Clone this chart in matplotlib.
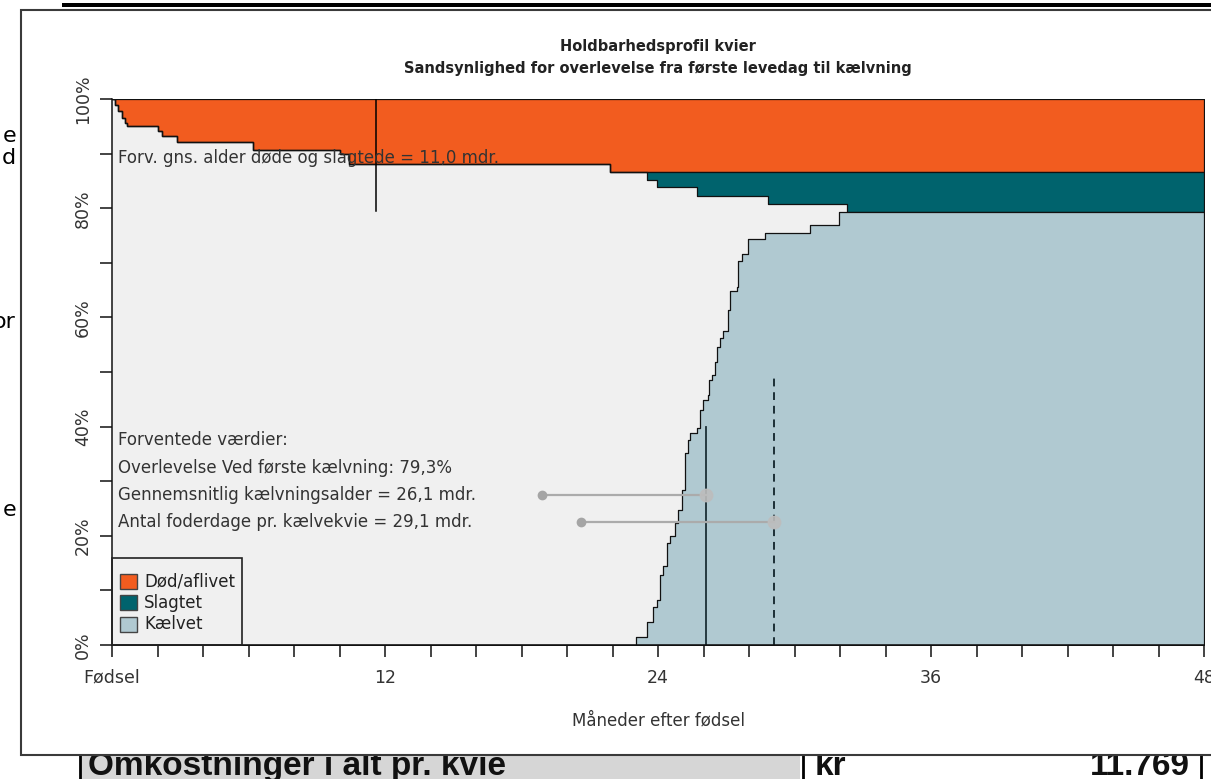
import matplotlib
matplotlib.use("Agg")
import matplotlib.pyplot as plt
from matplotlib.patches import Rectangle
from matplotlib.lines import Line2D
import numpy as np

W, H, DPI = 1211, 779, 100

# ---------------- data ----------------
title_line1 = "Holdbarhedsprofil kvier"
title_line2 = "Sandsynlighed for overlevelse fra første levedag til kælvning"
x_label = "Måneder efter fødsel"
x_tick_pos = [0, 12, 24, 36, 48]
x_tick_labels = ["Fødsel", "12", "24", "36", "48"]
y_tick_pos = [0, 20, 40, 60, 80, 100]
y_tick_labels = ["0%", "20%", "40%", "60%", "80%", "100%"]

# cumulative % died / culled (months after birth)
dead_months = [0.15, 0.28, 0.42, 0.55, 0.65, 2.04, 2.2, 2.84, 6.21, 10.02, 10.4, 21.9]
dead_cum = [1.1, 2.2, 3.5, 4.4, 4.9, 5.9, 6.7, 7.8, 9.4, 10.0, 11.9, 13.3]

# cumulative % slaughtered
slaughter_months = [23.5, 23.94, 25.7, 28.85, 32.29]
slaughter_cum = [1.5, 2.9, 4.4, 6.0, 7.4]

# cumulative % calved
calved_months = [23.03, 23.50, 23.79, 23.94, 24.09, 24.23, 24.38, 24.53, 24.75, 24.89,
                 25.04, 25.19, 25.33, 25.41, 25.70, 25.85, 25.99, 26.21, 26.25, 26.36,
                 26.51, 26.61, 26.73, 26.87, 27.07, 27.17, 27.46, 27.53, 27.68, 27.97,
                 28.70, 30.68, 31.94]
calved_cum = [1.5, 4.3, 7.0, 8.3, 12.8, 14.4, 18.7, 19.9, 22.3, 24.8,
              28.4, 35.2, 37.6, 38.8, 39.8, 43.1, 44.9, 45.8, 48.5, 49.5,
              51.9, 54.5, 56.3, 57.5, 61.4, 64.8, 65.5, 70.3, 71.6, 74.4,
              75.5, 77.0, 79.3]

legend_labels = ["Død/aflivet", "Slagtet", "Kælvet"]

dead_age_line = 11.6          # month of vertical line (avg age dead/slaughtered)
dead_age_line_span = (79.5, 100)
calving_age = 26.1
calving_age_span = (0, 40)
feed_days = 29.1
feed_days_span = (0, 49)
calving_age_bar = (18.9, 26.1, 27.5)   # x from, x to, y
feed_days_bar = (20.6, 29.1, 22.6)

note_dead = "Forv. gns. alder døde og slagtede = 11,0 mdr."
expected_lines = ["Forventede værdier:",
                  "Overlevelse Ved første kælvning: 79,3%",
                  "Gennemsnitlig kælvningsalder = 26,1 mdr.",
                  "Antal foderdage pr. kælvekvie = 29,1 mdr."]
expected_y = [37.5, 32.5, 27.5, 22.6]

c_dead = "#F25C1F"
c_slaughter = "#00636D"
c_calved = "#B0C9D1"
c_alive = "#F0F0F0"

# ---------------- helpers ----------------
def step_eval(months, values, grid):
    months = np.asarray(months)
    values = np.asarray(values)
    idx = np.searchsorted(months, grid, side="right") - 1
    return np.where(idx >= 0, values[np.clip(idx, 0, None)], 0.0)

grid = np.array(sorted(set([0.0, 48.0] + dead_months + slaughter_months + calved_months)))
D = 100 - step_eval(dead_months, dead_cum, grid)
S = D - step_eval(slaughter_months, slaughter_cum, grid)
C = step_eval(calved_months, calved_cum, grid)

def fx(px):
    return px / W

def fy(py):
    return 1 - py / H

fig = plt.figure(figsize=(W / DPI, H / DPI), dpi=DPI)
fig.patch.set_facecolor("white")

# ---------------- page behind the dialog ----------------
fig.add_artist(Rectangle((fx(62), fy(7)), fx(1211 - 62), 4 / H, facecolor="black",
                         edgecolor="none", zorder=-3))
for s, yy in [("e", 136), ("d", 158), ("or", 322), ("e", 510)]:
    fig.text(fx(16), fy(yy), s, ha="right", va="center", fontsize=16,
             family="DejaVu Sans", color="black", zorder=-3)
fig.add_artist(Rectangle((fx(80), 0), fx(800 - 80), 40 / H, facecolor="#d6d6d6",
                         edgecolor="none", zorder=-3))
for xx in [80, 803, 1201]:
    fig.add_artist(Line2D([fx(xx), fx(xx)], [0, 40 / H], color="black", lw=2, zorder=-3))
bottom_font = dict(fontsize=24, fontweight="bold", family=["Liberation Sans", "DejaVu Sans"],
                   color="#111111", zorder=-3, va="baseline")
fig.text(fx(88), fy(775), "Omkostninger i alt pr. kvie", ha="left", **bottom_font)
fig.text(fx(815), fy(775), "kr", ha="left", **bottom_font)
fig.text(fx(1190), fy(775), "11.769", ha="right", **bottom_font)

# dialog frame
fig.add_artist(Rectangle((fx(21), fy(755)), fx(1240 - 21), (755 - 10) / H,
                         facecolor="white", edgecolor="#3a3a3a", lw=1.5, zorder=-1))

# ---------------- plot ----------------
ax = fig.add_axes([fx(112), fy(645), fx(1204 - 112), (645 - 99) / H], zorder=0)
ax.set_facecolor(c_alive)
ax.set_xlim(0, 48)
ax.set_ylim(0, 100)

ax.fill_between(grid, D, 100, step="post", facecolor=c_dead, edgecolor="#111111", lw=0.9)
ax.fill_between(grid, S, D, step="post", facecolor=c_slaughter, edgecolor="#111111", lw=0.9)
ax.fill_between(grid, 0, C, step="post", facecolor=c_calved, edgecolor="#111111", lw=0.9)

ax.plot([dead_age_line] * 2, dead_age_line_span, color="black", lw=1.1)
ax.plot([calving_age] * 2, calving_age_span, color="#1b2e35", lw=1.3)
ax.plot([feed_days] * 2, feed_days_span, color="#1b2e35", lw=1.4, linestyle=(0, (4, 3)))

for x0, x1, yy in [calving_age_bar, feed_days_bar]:
    ax.plot([x0, x1], [yy, yy], color="#ababab", lw=1.6)
    ax.plot([x0], [yy], "o", ms=6, color="#a5a5a5")
    ax.plot([x1], [yy], "o", ms=9, color="#bdbdbd", alpha=0.9)

ax.text(0.25, 89.2, note_dead, ha="left", va="center", fontsize=12, color="#333333")
for s, yy in zip(expected_lines, expected_y):
    ax.text(0.25, yy, s, ha="left", va="center", fontsize=12, color="#333333")

# legend (drawn in axes fraction)
axw, axh = 1204 - 112, 645 - 99
leg_box = Rectangle((0, 0), 130 / axw, 87 / axh, transform=ax.transAxes,
                    facecolor="none", edgecolor="#222222", lw=1.2, zorder=5, clip_on=False)
ax.add_patch(leg_box)
for lab, col, cy in zip(legend_labels, [c_dead, c_slaughter, c_calved], [581, 602.5, 624]):
    ax.add_patch(Rectangle((8 / axw, (645 - cy - 7.5) / axh), 17 / axw, 15 / axh,
                           transform=ax.transAxes, facecolor=col, edgecolor="#444444",
                           lw=1, zorder=6))
    ax.text(32 / axw, (645 - cy) / axh, lab, transform=ax.transAxes, ha="left",
            va="center", fontsize=12, color="#222222", zorder=6)

# axes styling
for side in ["top", "right"]:
    ax.spines[side].set_visible(False)
for side in ["left", "bottom"]:
    ax.spines[side].set_color("#111111")
    ax.spines[side].set_linewidth(1.1)
ax.set_xticks(x_tick_pos, x_tick_labels)
ax.set_xticks(np.arange(0, 49, 2), minor=True)
ax.set_yticks(y_tick_pos, y_tick_labels)
ax.set_yticks(np.arange(10, 100, 20), minor=True)
ax.tick_params(axis="both", which="both", length=8.6, width=1.1, color="#111111",
               labelsize=12.5, labelcolor="#333333")
ax.tick_params(axis="x", which="both", pad=8.5)
ax.tick_params(axis="y", which="both", pad=6)
for lab in ax.get_yticklabels():
    lab.set_rotation(90)
    lab.set_va("center")
ax.set_xlabel(x_label, fontsize=12, color="#333333", labelpad=18)

fig.text(fx(658), fy(46), title_line1, ha="center", va="center", fontsize=10.5,
         fontweight="bold", color="#222222")
fig.text(fx(658), fy(68), title_line2, ha="center", va="center", fontsize=10.5,
         fontweight="bold", color="#222222")

fig.savefig("out.png", dpi=DPI)
